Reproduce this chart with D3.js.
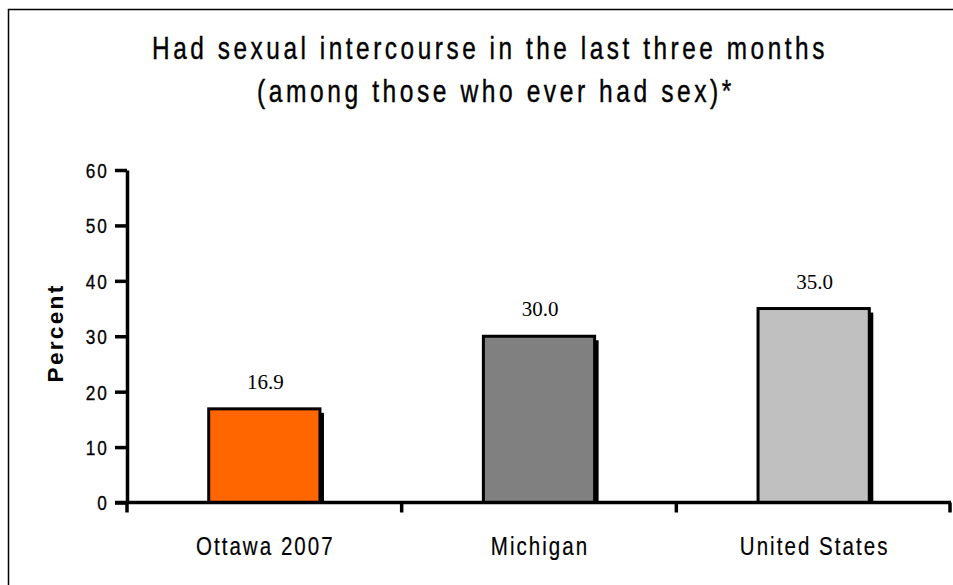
<!DOCTYPE html>
<html>
<head>
<meta charset="utf-8">
<script src="https://cdn.jsdelivr.net/npm/d3@7"></script>
<style>
  html, body { margin: 0; padding: 0; background: #fff; }
  svg { display: block; }
</style>
</head>
<body>
<svg id="chart" width="953" height="585"></svg>
<script>
const categories = ["Ottawa 2007", "Michigan", "United States"];
const values = [16.9, 30.0, 35.0];
const colors = ["#FF6600", "#808080", "#C0C0C0"];
const yTicks = [0, 10, 20, 30, 40, 50, 60];
const titleLines = ["Had sexual intercourse in the last three months", "(among those who ever had sex)*"];
const yLabel = "Percent";

const sans = "'Liberation Sans', Arial, sans-serif";
const svg = d3.select("#chart");

// horizontally compress text (narrow face look) to a target width
function fitWidth(node, target) {
  const len = node.getComputedTextLength();
  return len > 0 ? target / len : 1;
}

// outer frame
svg.append("rect").attr("x", 8.5).attr("y", 9.5).attr("width", 960).attr("height", 600)
  .attr("fill", "#fff").attr("stroke", "#000").attr("stroke-width", 1.5);

const x = d3.scaleBand().domain(categories).range([127, 951]).padding(0);
const y = d3.scaleLinear().domain([0, 60]).range([502.5, 170]);
const barW = x.bandwidth() * 0.405;

// title
const titleCenters = [490, 496];
const titleWidths = [676, 478];
svg.append("g").selectAll("text").data(titleLines).join("text")
  .attr("text-anchor", "middle")
  .attr("font-family", sans).attr("font-size", 31).attr("letter-spacing", 4.5)
  .attr("fill", "#000").attr("stroke", "#000").attr("stroke-width", 0.4)
  .text(d => d)
  .each(function(d, i) {
    const s = fitWidth(this, titleWidths[i]);
    d3.select(this).attr("transform", `translate(${titleCenters[i]},${59 + i * 43}) scale(${s},1)`);
  });

// bars: shadow then bar
const bars = svg.append("g");
bars.selectAll("rect.shadow").data(values).join("rect").attr("class", "shadow")
  .attr("x", (d, i) => x(categories[i]) + (x.bandwidth() - barW) / 2 + 4)
  .attr("y", d => y(d) + 4)
  .attr("width", barW).attr("height", d => y(0) - y(d) - 4)
  .attr("fill", "#000");
bars.selectAll("rect.bar").data(values).join("rect").attr("class", "bar")
  .attr("x", (d, i) => x(categories[i]) + (x.bandwidth() - barW) / 2)
  .attr("y", d => y(d))
  .attr("width", barW).attr("height", d => y(0) - y(d))
  .attr("fill", (d, i) => colors[i]).attr("stroke", "#000").attr("stroke-width", 3);

// value labels
svg.append("g").selectAll("text").data(values).join("text")
  .attr("x", (d, i) => x(categories[i]) + x.bandwidth() / 2 + 1)
  .attr("y", d => y(d) - 20)
  .attr("text-anchor", "middle")
  .attr("font-family", "'Liberation Serif', 'Times New Roman', serif").attr("font-size", 21)
  .attr("fill", "#000").text(d => d.toFixed(1));

// y axis
const yAxis = svg.append("g").attr("transform", "translate(127,0)")
  .call(d3.axisLeft(y).tickValues(yTicks).tickSize(12).tickPadding(6).tickSizeOuter(0));
yAxis.select(".domain").attr("stroke", "#000").attr("stroke-width", 3.5);
yAxis.selectAll(".tick line").attr("stroke", "#000").attr("stroke-width", 3.5);
yAxis.selectAll(".tick text").attr("font-family", sans).attr("font-size", 20.5).attr("fill", "#000")
  .attr("stroke", "#000").attr("stroke-width", 0.3)
  .attr("letter-spacing", 2.5)
  .attr("x", 0).attr("dy", "0.36em")
  .attr("transform", "translate(-18,0) scale(0.84,1)");

// x axis
const xAxis = svg.append("g");
xAxis.append("line").attr("x1", 115).attr("x2", 951).attr("y1", y(0)).attr("y2", y(0))
  .attr("stroke", "#000").attr("stroke-width", 3.5);
const bounds = categories.map(c => x(c)).concat([x.range()[1]]);
xAxis.selectAll("line.tick").data(bounds).join("line").attr("class", "tick")
  .attr("x1", d => d === 951 ? d - 1 : d).attr("x2", d => d === 951 ? d - 1 : d)
  .attr("y1", y(0)).attr("y2", y(0) + 10)
  .attr("stroke", "#000").attr("stroke-width", 3.5);
xAxis.selectAll("text").data(categories).join("text")
  .attr("text-anchor", "middle")
  .attr("font-family", sans).attr("font-size", 25).attr("letter-spacing", 2.5)
  .attr("fill", "#000").attr("stroke", "#000").attr("stroke-width", 0.2)
  .text(d => d)
  .attr("transform", d => `translate(${x(d) + x.bandwidth() / 2 + 1},555) scale(0.82,1)`);

// y label
svg.append("text")
  .attr("text-anchor", "middle")
  .attr("font-family", sans).attr("font-weight", "bold")
  .attr("font-size", 22).attr("letter-spacing", 2.2)
  .attr("fill", "#000").text(yLabel)
  .each(function() {
    const s = fitWidth(this, 99);
    d3.select(this).attr("transform", `translate(63,333) rotate(-90) scale(${s},1)`);
  });
</script>
</body>
</html>
